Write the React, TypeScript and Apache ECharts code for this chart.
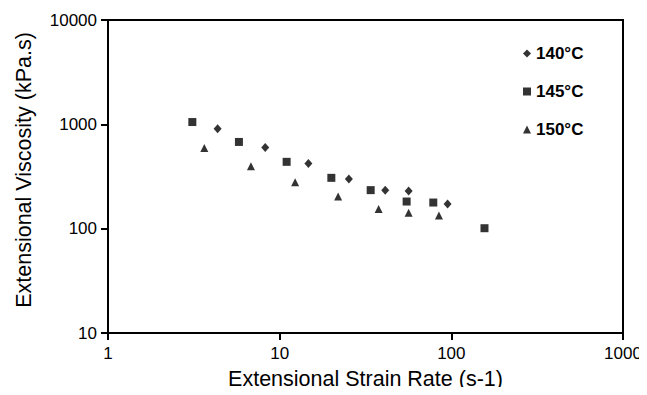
import React, { useEffect, useRef } from "react";
import * as echarts from "echarts";

const FONT = "'Liberation Sans', Arial, sans-serif";

const seriesNames = ["140°C", "145°C", "150°C"];
const xTitle = "Extensional Strain Rate (s-1)";
const yTitle = "Extensional Viscosity (kPa.s)";
const rate140 = [4.35, 8.24, 14.7, 25.3, 41.2, 56.4, 95.1];
const visc140 = [908, 601, 421, 300, 234, 229, 172];
const rate145 = [3.1, 5.79, 10.98, 20.0, 33.9, 54.9, 78.5, 156];
const visc145 = [1052, 678, 437, 307, 234, 182, 178, 101];
const rate150 = [3.64, 6.8, 12.3, 21.9, 37.7, 56.4, 84.7];
const visc150 = [594, 396, 279, 203, 154, 142, 134];

const zip = (xs: number[], ys: number[]) => xs.map((x, i) => [x, ys[i]]);

export default function App() {
  const ref = useRef<HTMLDivElement>(null);
  useEffect(() => {
    const chart = echarts.init(ref.current!, null, { renderer: "svg" });
    const tick = { show: true, inside: false, length: 7, lineStyle: { color: "#000", width: 2 } };
    const axisCommon = {
      type: "log" as const,
      logBase: 10,
      nameLocation: "middle" as const,
      nameTextStyle: { color: "#000", fontSize: 21.5, fontFamily: FONT },
      axisLine: { show: true, lineStyle: { color: "#000", width: 2 } },
      splitLine: { show: false },
      minorTick: { show: false },
      minorSplitLine: { show: false },
    };
    const labelCommon = {
      color: "#000",
      fontSize: 17,
      fontFamily: FONT,
      formatter: (v: number) => String(Math.round(v)),
    };
    chart.setOption({
      animation: false,
      backgroundColor: "#fff",
      grid: {
        left: 108,
        top: 20,
        right: 24,
        bottom: 61,
        show: true,
        borderColor: "#000",
        borderWidth: 2,
        backgroundColor: "transparent",
      },
      legend: {
        orient: "vertical",
        left: 518,
        top: 40,
        itemWidth: 8,
        itemHeight: 8,
        itemGap: 21,
        data: seriesNames,
        textStyle: { color: "#000", fontSize: 17, fontWeight: "bold", fontFamily: FONT },
      },
      graphic: [
        {
          type: "text",
          x: 24,
          y: 170,
          rotation: Math.PI / 2,
          style: {
            text: yTitle,
            fill: "#000",
            fontSize: 21.5,
            fontFamily: FONT,
            align: "center",
            verticalAlign: "middle",
          },
        },
      ],
      xAxis: {
        ...axisCommon,
        min: 1,
        max: 1000,
        name: xTitle,
        nameGap: 35,
        axisTick: tick,
        axisLabel: { ...labelCommon, margin: 12 },
      },
      yAxis: {
        ...axisCommon,
        min: 10,
        max: 10000,
        axisTick: tick,
        axisLabel: { ...labelCommon, margin: 11 },
      },
      series: [
        {
          name: seriesNames[0],
          type: "scatter",
          symbol: "diamond",
          symbolSize: [8, 9],
          itemStyle: { color: "#000" },
          data: zip(rate140, visc140),
        },
        {
          name: seriesNames[1],
          type: "scatter",
          symbol: "rect",
          symbolSize: 8,
          itemStyle: { color: "#000" },
          data: zip(rate145, visc145),
        },
        {
          name: seriesNames[2],
          type: "scatter",
          symbol: "triangle",
          symbolSize: [8, 8],
          itemStyle: { color: "#000" },
          data: zip(rate150, visc150),
        },
      ],
    });
    return () => chart.dispose();
  }, []);
  return <div ref={ref} style={{ width: 647, height: 395, margin: -8 }} />;
}
